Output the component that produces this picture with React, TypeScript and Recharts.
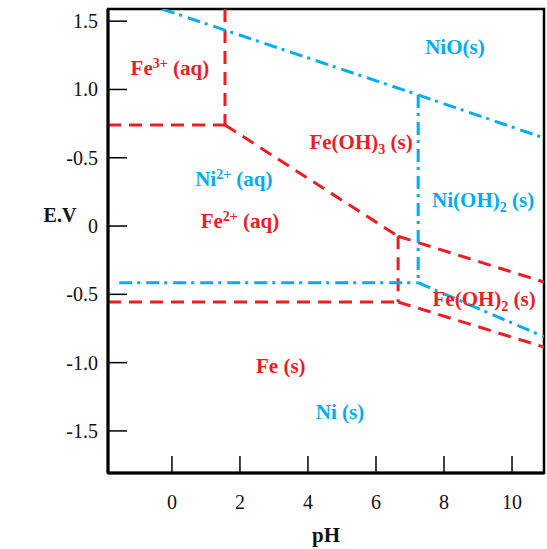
import { ComposedChart, Line, Scatter, XAxis, YAxis } from 'recharts'

const RED = '#ee1c24'
const BLUE = '#00aeef'
const FONT = 'Liberation Serif'

// axis ticks (the 0.5 tick is printed as "-0.5" in the original figure)
const xTicks = [0, 2, 4, 6, 8, 10]
const yTicks = [1.5, 1.0, 0.5, 0, -0.5, -1.0, -1.5]
const yTickLabels = ['1.5', '1.0', '-0.5', '0', '-0.5', '-1.0', '-1.5']
const xDomain = [-1.88, 10.94]
const yDomain = [-1.808, 1.589]

// Fe boundaries (red dashed)
const fe3Fe2 = [{ ph: -1.88, e: 0.74 }, { ph: 1.56, e: 0.74 }]
const fe3FeOH3 = [{ ph: 1.56, e: 1.589 }, { ph: 1.56, e: 0.74 }]
const fe2FeOH3 = [{ ph: 1.56, e: 0.74 }, { ph: 6.65, e: -0.075 }]
const fe2FeOH2 = [{ ph: 6.65, e: -0.075 }, { ph: 6.65, e: -0.556 }]
const feOH3FeOH2 = [{ ph: 6.65, e: -0.075 }, { ph: 10.94, e: -0.41 }]
const fe2Fe = [{ ph: -1.88, e: -0.556 }, { ph: 6.65, e: -0.556 }]
const feOH2Fe = [{ ph: 6.65, e: -0.556 }, { ph: 10.94, e: -0.886 }]

// Ni boundaries (blue dash-dot)
const ni2NiO = [{ ph: -0.29, e: 1.589 }, { ph: 7.24, e: 0.96 }, { ph: 10.94, e: 0.645 }]
const ni2NiOH2 = [{ ph: 7.24, e: 0.96 }, { ph: 7.24, e: -0.415 }]
const ni2Ni = [{ ph: -1.55, e: -0.415 }, { ph: 7.24, e: -0.415 }]
const niOH2Ni = [{ ph: 7.24, e: -0.415 }, { ph: 10.94, e: -0.81 }]

const redLines = [fe3Fe2, fe3FeOH3, fe2FeOH3, fe2FeOH2, feOH3FeOH2, fe2Fe, feOH2Fe]
const blueLines = [ni2NiO, ni2NiOH2, ni2Ni, niOH2Ni]

// region labels
const regionLabels = [
  { ph: -0.06, e: 1.157, color: RED, base: 'Fe', sup: '3+', tail: ' (aq)' },
  { ph: 8.32, e: 1.31, color: BLUE, base: 'NiO(s)' },
  { ph: 5.56, e: 0.615, color: RED, base: 'Fe(OH)', sub: '3', tail: ' (s)' },
  { ph: 1.82, e: 0.35, color: BLUE, base: 'Ni', sup: '2+', tail: ' (aq)' },
  { ph: 9.15, e: 0.19, color: BLUE, base: 'Ni(OH)', sub: '2', tail: ' (s)' },
  { ph: 2.0, e: 0.037, color: RED, base: 'Fe', sup: '2+', tail: ' (aq)' },
  { ph: 9.18, e: -0.534, color: RED, base: 'Fe(OH)', sub: '2', tail: ' (s)' },
  { ph: 3.2, e: -1.02, color: RED, base: 'Fe (s)' },
  { ph: 4.94, e: -1.36, color: BLUE, base: 'Ni (s)' },
]

const W = 547
const H = 549
const PLOT_LEFT = 108
const PLOT_TOP = 9
const PLOT_RIGHT = 544
const PLOT_BOTTOM = 473

function YTick(props: any) {
  const { y, payload } = props
  const label = yTickLabels[yTicks.indexOf(payload.value)]
  return (
    <g>
      <line x1={PLOT_LEFT} x2={PLOT_LEFT + 19} y1={y} y2={y} stroke="#000" strokeWidth={1.5} />
      <text x={PLOT_LEFT - 10} y={y} dy="0.35em" textAnchor="end" fontSize={20} fontFamily={FONT} fill="#111">
        {label}
      </text>
    </g>
  )
}

function XTick(props: any) {
  const { x, payload } = props
  return (
    <g>
      <line x1={x} x2={x} y1={PLOT_BOTTOM} y2={PLOT_BOTTOM - 17} stroke="#000" strokeWidth={1.5} />
      <text x={x} y={PLOT_BOTTOM + 29} dy="0.35em" textAnchor="middle" fontSize={20} fontFamily={FONT} fill="#111">
        {payload.value}
      </text>
    </g>
  )
}

function RegionLabel(props: any) {
  const { cx, cy, payload } = props
  const p = payload
  return (
    <text
      x={cx}
      y={cy}
      dy="0.35em"
      textAnchor="middle"
      fontSize={21}
      fontWeight="bold"
      fontFamily={FONT}
      fill={p.color}
    >
      <tspan>{p.base}</tspan>
      {p.sup && <tspan dy={-7} fontSize={14}>{p.sup}</tspan>}
      {p.sub && <tspan dy={5} fontSize={14}>{p.sub}</tspan>}
      {p.tail && <tspan dy={p.sup ? 7 : p.sub ? -5 : 0}>{p.tail}</tspan>}
    </text>
  )
}

export default function App() {
  return (
    <div style={{ position: 'fixed', left: 0, top: 0, width: W, height: H, background: '#fff' }}>
      <ComposedChart
        width={W}
        height={H}
        margin={{ top: PLOT_TOP, right: W - PLOT_RIGHT, bottom: 0, left: 0 }}
      >
        <XAxis
          type="number"
          dataKey="ph"
          domain={xDomain}
          ticks={xTicks}
          allowDataOverflow
          height={H - PLOT_BOTTOM}
          axisLine={{ stroke: '#000', strokeWidth: 3 }}
          tickLine={false}
          tick={<XTick />}
          label={{
            content: (p: any) => (
              <text
                x={p.viewBox.x + p.viewBox.width / 2}
                y={p.viewBox.y + 62}
                dy="0.35em"
                textAnchor="middle"
                fontSize={21}
                fontWeight="bold"
                fontFamily={FONT}
                fill="#111"
              >
                pH
              </text>
            ),
          }}
        />
        <YAxis
          type="number"
          domain={yDomain}
          ticks={yTicks}
          allowDataOverflow
          width={PLOT_LEFT}
          axisLine={{ stroke: '#000', strokeWidth: 3 }}
          tickLine={false}
          tick={<YTick />}
          label={{
            content: (p: any) => (
              <text
                x={60}
                y={p.viewBox.y + 206}
                dy="0.35em"
                textAnchor="middle"
                fontSize={20}
                fontWeight="bold"
                fontFamily={FONT}
                fill="#111"
              >
                E.V
              </text>
            ),
          }}
        />
        {/* plot frame (top and right edges) */}
        <rect
          x={PLOT_LEFT}
          y={PLOT_TOP}
          width={PLOT_RIGHT - PLOT_LEFT}
          height={PLOT_BOTTOM - PLOT_TOP}
          fill="none"
          stroke="#000"
          strokeWidth={2.5}
        />
        {redLines.map((d, i) => (
          <Line
            key={'r' + i}
            data={d}
            dataKey="e"
            type="linear"
            stroke={RED}
            strokeWidth={3}
            strokeDasharray="13 8"
            dot={false}
            isAnimationActive={false}
          />
        ))}
        {blueLines.map((d, i) => (
          <Line
            key={'b' + i}
            data={d}
            dataKey="e"
            type="linear"
            stroke={BLUE}
            strokeWidth={3}
            strokeDasharray="13 5 3 6"
            dot={false}
            isAnimationActive={false}
          />
        ))}
        <Scatter data={regionLabels} dataKey="e" shape={<RegionLabel />} isAnimationActive={false} />
      </ComposedChart>
    </div>
  )
}
